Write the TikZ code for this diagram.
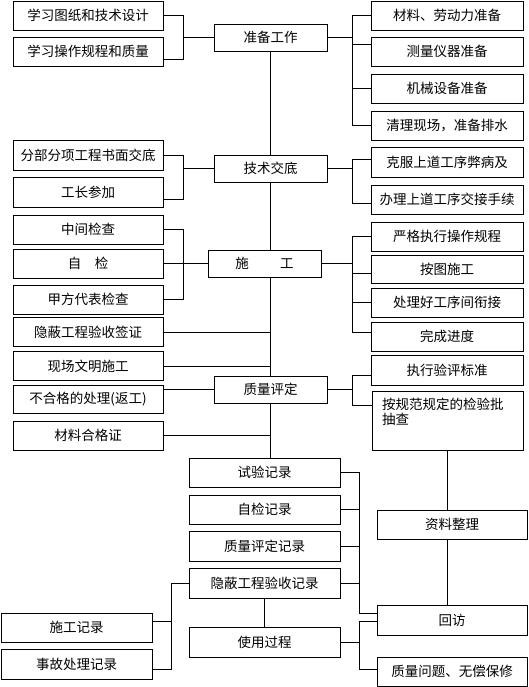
\documentclass[tikz,border=0pt]{standalone}
\usepackage{fontspec}
\setmainfont{Noto Sans CJK SC}
\begin{document}
\begin{tikzpicture}[x=1pt, y=-1pt, line width=0.8pt,
  every node/.style={font=\fontsize{13.5}{15}\selectfont, inner sep=0pt},
  box/.style={draw, minimum height=29pt},
  lbox/.style={box, minimum width=150pt},
  cbox/.style={box, minimum width=113pt, minimum height=27pt},
  rbox/.style={box, minimum width=152pt},
  dbox/.style={box, minimum width=151pt}]
  \useasboundingbox (0,0) rectangle (528,687);

  % main stages
  \node[cbox] (zbgz) at (270.5,37.5) {准备工作};
  \node[cbox] (jsjd) at (270.5,168.5) {技术交底};
  \node[cbox] (sg) at (264.5,263.5) {施\hspace{2.3em}工};
  \node[cbox] (zlpd) at (270.5,389.5) {质量评定};

  % left column
  \node[lbox] (xxtz) at (88,15.5) {学习图纸和技术设计};
  \node[lbox] (xxcz) at (88,51.5) {学习操作规程和质量};
  \node[lbox, minimum height=30pt] (fbfx) at (88,155) {分部分项工程书面交底};
  \node[lbox, minimum height=30pt] (gzcj) at (88,192) {工长参加};
  \node[lbox] (zjjc) at (88,229.5) {中间检查};
  \node[lbox] (zijian) at (88,263.5) {自\hspace{1em}检};
  \node[lbox] (jfdb) at (88,299.5) {甲方代表检查};
  \node[lbox] (ybqz) at (88,332) {隐蔽工程验收签证};
  \node[lbox] (xcwm) at (88,366) {现场文明施工};
  \node[lbox, minimum height=28pt] (bhg) at (88,399) {不合格的处理(返工)};
  \node[lbox] (clhgz) at (88,435.5) {材料合格证};

  % right column
  \node[rbox] (clzb) at (447,15.5) {材料、劳动力准备};
  \node[rbox] (clyq) at (447,51.5) {测量仪器准备};
  \node[rbox] (jxsb) at (447,88.5) {机械设备准备};
  \node[rbox] (qlxc) at (447,125.5) {清理现场，准备排水};
  \node[rbox, minimum height=30pt] (kfsd) at (447,162) {克服上道工序弊病及};
  \node[rbox] (blsd) at (447,199.5) {办理上道工序交接手续};
  \node[rbox] (yzzx) at (447,236.5) {严格执行操作规程};
  \node[rbox, minimum height=28pt] (atsg) at (447,269) {按图施工};
  \node[rbox] (clhj) at (447,302.5) {处理好工序间衔接};
  \node[rbox] (wcjd) at (447,336.5) {完成进度};
  \node[rbox, minimum height=30pt] (zxyp) at (447,370) {执行验评标准};
  \node[box, minimum width=151pt, minimum height=59pt,
    label={[anchor=north west, align=left, inner sep=0pt, xshift=10pt, yshift=-7pt]north west:按规范规定的检验批\\抽查}] (agfc) at (447.5,420.5) {};

  % records
  \node[dbox] (syjl) at (264.5,472.5) {试验记录};
  \node[dbox] (zjjl) at (264.5,509.5) {自检记录};
  \node[dbox, minimum height=30pt] (zlpdjl) at (264.5,546) {质量评定记录};
  \node[dbox, minimum height=30pt] (ybjl) at (264.5,583) {隐蔽工程验收记录};
  \node[dbox, minimum height=30pt] (sygc) at (264.5,642) {使用过程};
  \node[box, minimum width=150pt] (zlzl) at (452,524.5) {资料整理};
  \node[box, minimum width=150pt, minimum height=30pt] (hf) at (452,620) {回访};
  \node[box, minimum width=150pt] (zlwt) at (452,671.5) {质量问题、无偿保修};
  \node[box, minimum width=151pt] (sgjl) at (76.5,627.5) {施工记录};
  \node[box, minimum width=151pt, minimum height=30pt] (sgcl) at (76.5,664) {事故处理记录};

  % bracket lines
  \coordinate (kL) at (183,0);
  \coordinate (kR) at (352,0);
  \coordinate (kD) at (359,0);
  \coordinate (kS) at (171,0);

  % spine
  \draw (zbgz.south) -- (jsjd.north);
  \draw (jsjd.south) -- (jsjd.south |- sg.north);
  \draw (sg.south -| zbgz) -- (zlpd.north);
  \draw (zlpd.south) -- (zlpd.south |- syjl.north);
  \draw (ybqz.east) -- (ybqz.east -| zbgz);
  \draw (xcwm.east) -- (xcwm.east -| zbgz);
  \draw (clhgz.east) -- (clhgz.east -| zbgz);
  \draw (zlpd.west) -- (zlpd.west -| bhg.east);

  % 准备工作
  \coordinate (xxcz-t) at ([yshift=-7.5pt]xxcz.east);
  \coordinate (clyq-t) at ([yshift=7.5pt]clyq.west);
  \draw (xxtz.east) -| (kL |- xxcz-t) -- (xxcz-t);
  \draw (zbgz.west) -- (zbgz.west -| kL);
  \draw (clzb.west) -| (kR |- qlxc.west) -- (qlxc.west);
  \draw (clyq-t) -- (clyq-t -| kR);
  \draw (jxsb.west) -- (jxsb.west -| kR);
  \draw (zbgz.east) -- (zbgz.east -| kR);

  % 技术交底
  \coordinate (gzcj-t) at ([yshift=-7pt]gzcj.east);
  \coordinate (kfsd-t) at ([yshift=3pt]kfsd.west);
  \coordinate (blsd-t) at ([yshift=-3.5pt]blsd.west);
  \draw (fbfx.east) -| (kL |- gzcj-t) -- (gzcj-t);
  \draw (jsjd.west) -- (jsjd.west -| kL);
  \draw (kfsd-t) -| (kR |- blsd-t) -- (blsd-t);
  \draw (jsjd.east) -- (jsjd.east -| kR);

  % 施工
  \coordinate (atsg-t) at ([yshift=-4pt]atsg.west);
  \coordinate (wcjd-t) at ([yshift=4.5pt]wcjd.west);
  \draw (zjjc.east) -| (kL |- jfdb.east) -- (jfdb.east);
  \draw (zijian.east) -- (zijian.east -| sg.west);
  \draw (yzzx.west) -| (kR |- wcjd-t) -- (wcjd-t);
  \draw (atsg-t) -- (atsg-t -| kR);
  \draw (clhj.west) -- (clhj.west -| kR);
  \draw (sg.east) -- (sg.east -| kR);

  % 质量评定
  \coordinate (zxyp-t) at ([yshift=-5pt]zxyp.west);
  \coordinate (agfc-t) at ([yshift=-15pt]agfc.north west);
  \draw (zxyp-t) -| (kR |- agfc-t) -- (agfc-t);
  \draw (zlpd.east) -- (zlpd.east -| kR);
  \draw (agfc.south) -- (agfc.south |- zlzl.north);
  \draw (zlzl.south -| agfc) -- (agfc.south |- hf.north);

  % records
  \coordinate (hf-t) at ([yshift=7pt]hf.west);
  \coordinate (hf-u) at ([yshift=-1pt]hf.west);
  \coordinate (zlwt-t) at ([yshift=2.5pt]zlwt.west);
  \draw (syjl.east) -| (kD |- hf-t) -- (hf-t);
  \draw (zjjl.east) -- (zjjl.east -| kD);
  \draw (zlpdjl.east) -- (zlpdjl.east -| kD);
  \draw (ybjl.east) -- (ybjl.east -| kD);
  \draw (ybjl) -- (sygc);
  \draw (sygc.east) -- (sygc.east -| kD);
  \draw (hf-u) -| (kD |- zlwt-t) -- (zlwt-t);

  % 施工记录, 事故处理记录
  \coordinate (sgjl-t) at ([yshift=6.5pt]sgjl.east);
  \coordinate (sgcl-t) at ([yshift=-5pt]sgcl.east);
  \draw (ybjl.west) -| (kS |- sgcl-t) -- (sgcl-t);
  \draw (sgjl-t) -- (sgjl-t -| kS);
\end{tikzpicture}
\end{document}
